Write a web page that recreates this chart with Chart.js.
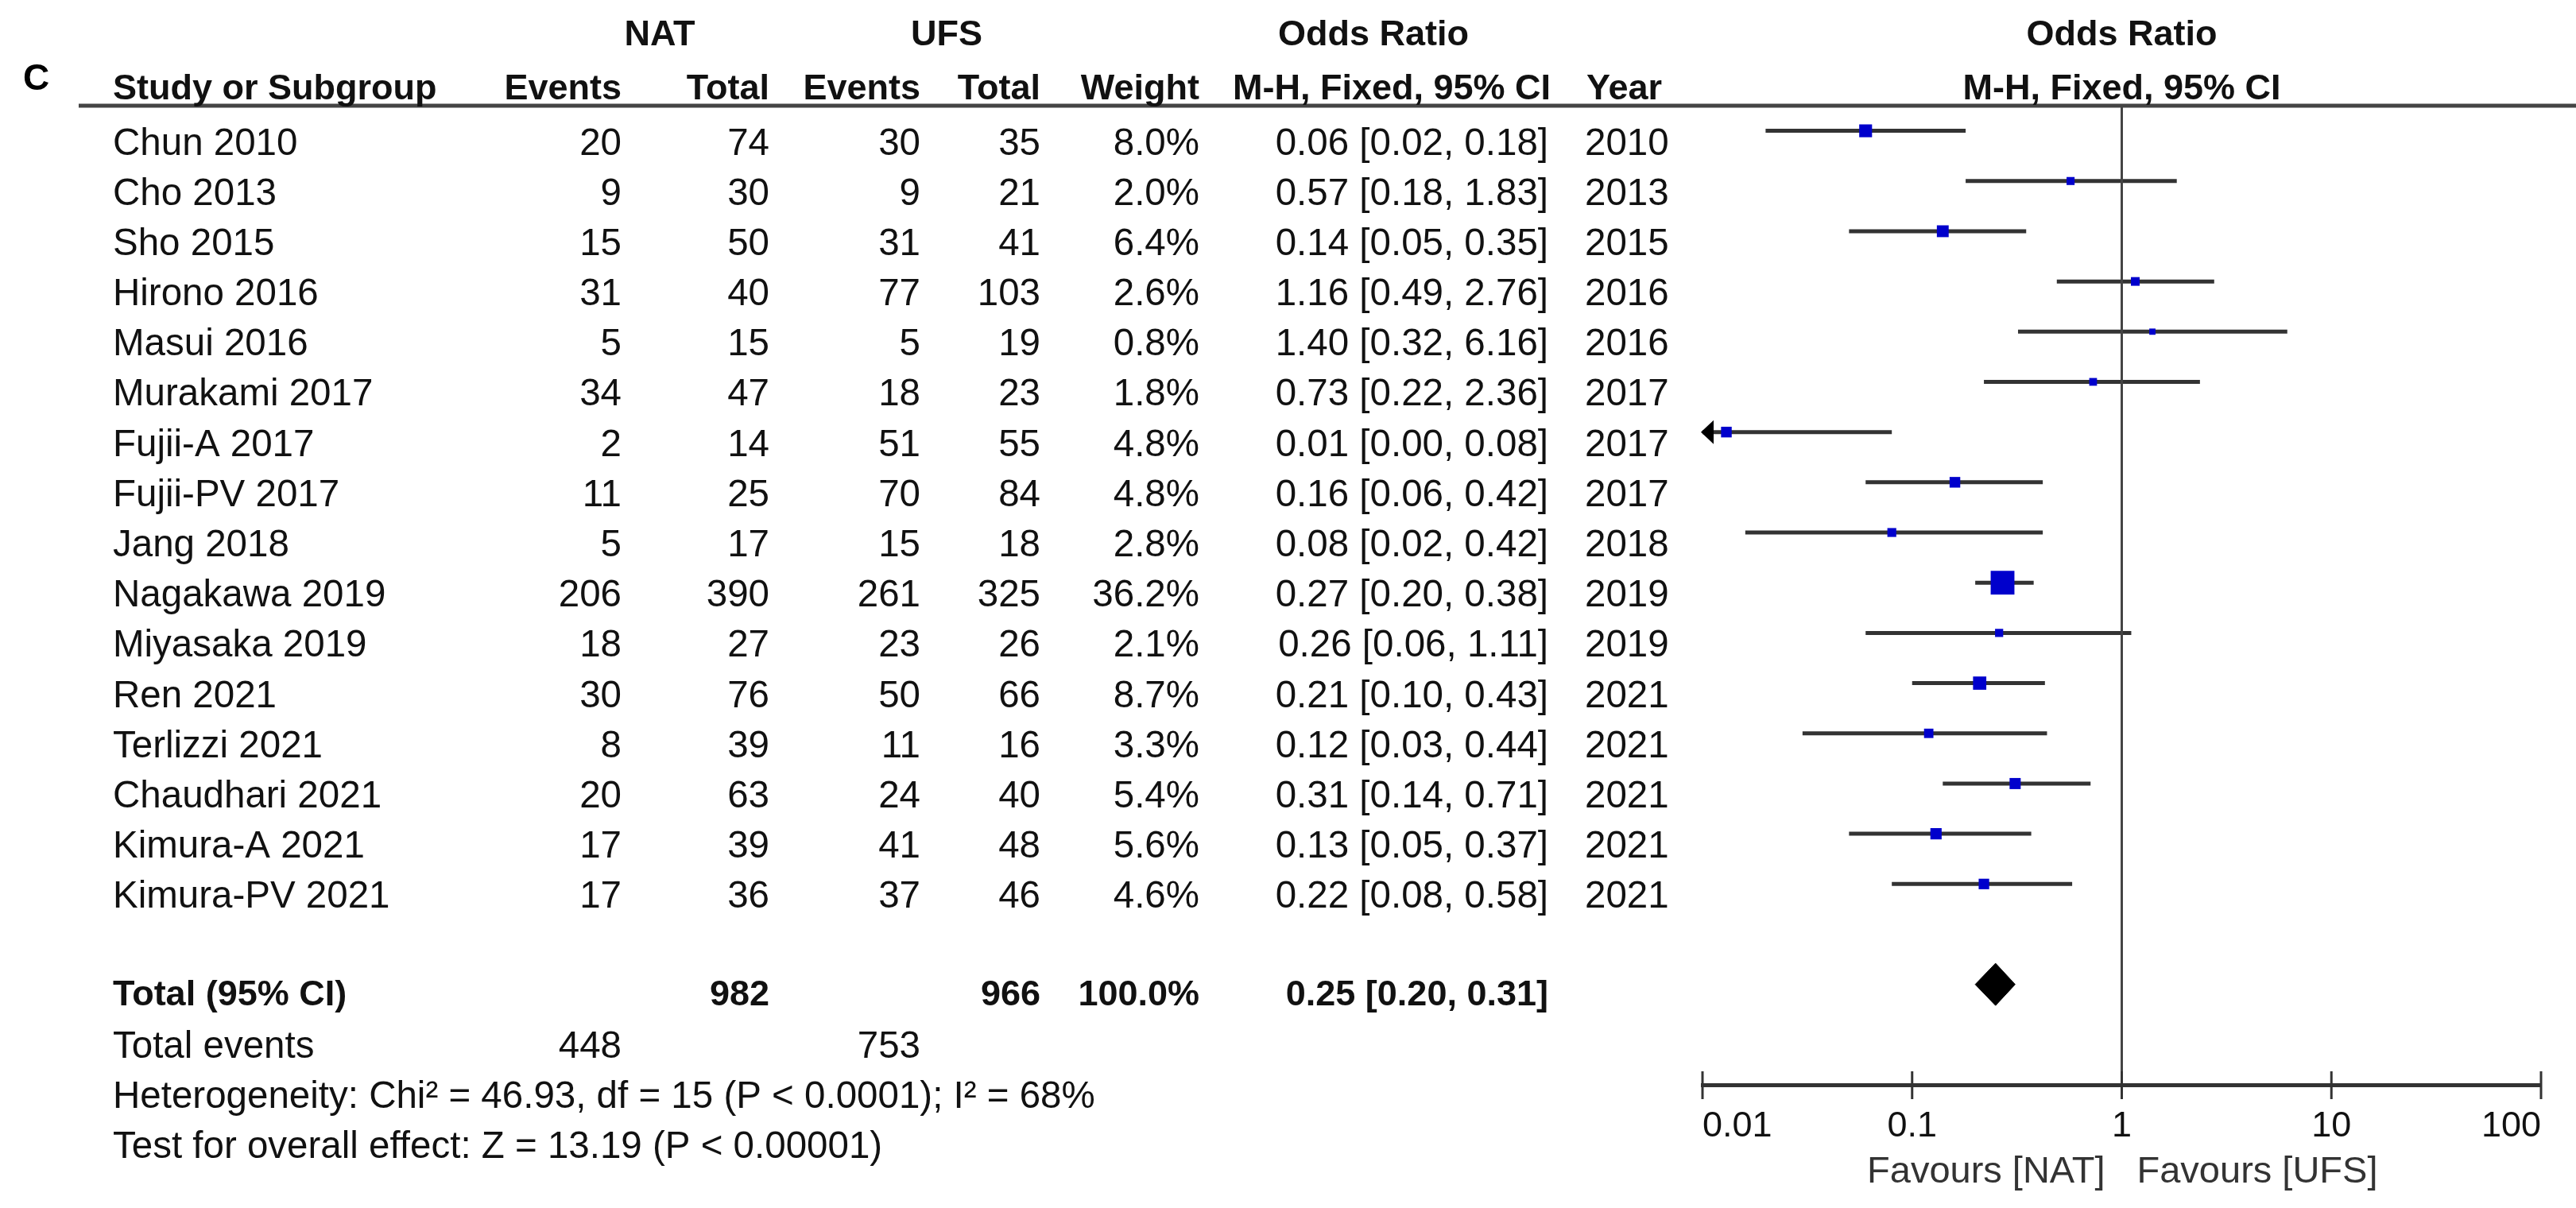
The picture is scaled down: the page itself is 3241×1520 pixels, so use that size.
<!DOCTYPE html>
<html>
<head>
<meta charset="utf-8">
<script src="https://cdn.jsdelivr.net/npm/chart.js@4.4.1/dist/chart.umd.min.js"></script>
<style>
  html, body { margin: 0; padding: 0; background: #fff; }
  canvas { display: block; }
</style>
</head>
<body>
<canvas id="forest" width="3241" height="1520" style="width:3241px;height:1520px"></canvas>
<script>
// study rows, top to bottom
const studies = ['Chun 2010', 'Cho 2013', 'Sho 2015', 'Hirono 2016', 'Masui 2016', 'Murakami 2017',
  'Fujii-A 2017', 'Fujii-PV 2017', 'Jang 2018', 'Nagakawa 2019', 'Miyasaka 2019', 'Ren 2021',
  'Terlizzi 2021', 'Chaudhari 2021', 'Kimura-A 2021', 'Kimura-PV 2021'];
const natEvents = [20, 9, 15, 31, 5, 34, 2, 11, 5, 206, 18, 30, 8, 20, 17, 17];
const natTotal = [74, 30, 50, 40, 15, 47, 14, 25, 17, 390, 27, 76, 39, 63, 39, 36];
const ufsEvents = [30, 9, 31, 77, 5, 18, 51, 70, 15, 261, 23, 50, 11, 24, 41, 37];
const ufsTotal = [35, 21, 41, 103, 19, 23, 55, 84, 18, 325, 26, 66, 16, 40, 48, 46];
const weights = [8.0, 2.0, 6.4, 2.6, 0.8, 1.8, 4.8, 4.8, 2.8, 36.2, 2.1, 8.7, 3.3, 5.4, 5.6, 4.6];
const oddsRatio = [0.06, 0.57, 0.14, 1.16, 1.40, 0.73, 0.013, 0.16, 0.08, 0.27, 0.26, 0.21, 0.12, 0.31, 0.13, 0.22];
const ciLow = [0.02, 0.18, 0.05, 0.49, 0.32, 0.22, 0.002, 0.06, 0.016, 0.20, 0.06, 0.10, 0.03, 0.14, 0.05, 0.08];
const ciHigh = [0.18, 1.83, 0.35, 2.76, 6.16, 2.36, 0.08, 0.42, 0.42, 0.38, 1.11, 0.43, 0.44, 0.71, 0.37, 0.58];
const years = [2010, 2013, 2015, 2016, 2016, 2017, 2017, 2017, 2018, 2019, 2019, 2021, 2021, 2021, 2021, 2021];

// pooled result
const totalNat = 982;
const totalUfs = 966;
const totalEventsNat = 448;
const totalEventsUfs = 753;
const pooled = { or: 0.25, lo: 0.20, hi: 0.31 };
const heterogeneityText = 'Heterogeneity: Chi\u00b2 = 46.93, df = 15 (P < 0.0001); I\u00b2 = 68%';
const overallText = 'Test for overall effect: Z = 13.19 (P < 0.00001)';

// axis
const tickValues = [0.01, 0.1, 1, 10, 100];
const tickLabels = ['0.01', '0.1', '1', '10', '100'];

const FONT = '"Liberation Sans", Arial, Helvetica, sans-serif';
const totalRow = 17;

const fmt = v => v.toFixed(2);

const ciLines = [];
studies.forEach((s, i) => {
  ciLines.push({ x: Math.max(ciLow[i], tickValues[0]), y: i });
  ciLines.push({ x: ciHigh[i], y: i });
  ciLines.push({ x: null, y: null });
});

const squares = studies.map((s, i) => ({ x: oddsRatio[i], y: i }));
// square side grows with the study weight
const squareRadius = weights.map(w => (4 + 4.3 * Math.sqrt(w)) / Math.SQRT2);

const dh = 0.42;
const diamond = [
  { x: pooled.lo, y: totalRow },
  { x: pooled.or, y: totalRow - dh },
  { x: pooled.hi, y: totalRow },
  { x: pooled.or, y: totalRow + dh },
  { x: pooled.lo, y: totalRow }
];

const tablePlugin = {
  id: 'forestTable',
  afterDraw(chart) {
    const ctx = chart.ctx;
    const xs = chart.scales.x;
    const ys = chart.scales.y;
    const area = chart.chartArea;
    const regular = '47.5px ' + FONT;
    const bold = 'bold 45px ' + FONT;

    function text(str, x, y, align, font, color) {
      ctx.font = font;
      ctx.textAlign = align;
      ctx.textBaseline = 'alphabetic';
      ctx.fillStyle = color || '#111';
      ctx.fillText(str, x, y);
    }

    ctx.save();

    // header rule
    ctx.strokeStyle = '#444';
    ctx.lineWidth = 5;
    ctx.beginPath();
    ctx.moveTo(99, area.top);
    ctx.lineTo(chart.width, area.top);
    ctx.stroke();

    // line of no effect
    const x1 = xs.getPixelForValue(1);
    ctx.lineWidth = 3;
    ctx.strokeStyle = '#444';
    ctx.beginPath();
    ctx.moveTo(x1, area.top);
    ctx.lineTo(x1, area.bottom);
    ctx.stroke();

    // tick marks crossing the axis
    ctx.strokeStyle = '#333';
    ctx.lineWidth = 3;
    tickValues.forEach(v => {
      const px = xs.getPixelForValue(v);
      ctx.beginPath();
      ctx.moveTo(px, area.bottom - 17);
      ctx.lineTo(px, area.bottom + 18);
      ctx.stroke();
    });

    // arrows for CIs running off the scale
    studies.forEach((s, i) => {
      if (ciLow[i] < xs.min) {
        const tip = xs.getPixelForValue(xs.min) - 2;
        const py = ys.getPixelForValue(i);
        ctx.fillStyle = '#000';
        ctx.beginPath();
        ctx.moveTo(tip, py);
        ctx.lineTo(tip + 16, py - 15);
        ctx.lineTo(tip + 16, py + 15);
        ctx.closePath();
        ctx.fill();
      }
    });

    // panel letter and headers
    text('C', 29, 113, 'left', 'bold 46px Arial, ' + FONT, '#000');
    text('NAT', 830, 57, 'center', bold);
    text('UFS', 1191, 57, 'center', bold);
    text('Odds Ratio', 1728, 57, 'center', bold);
    text('Odds Ratio', x1, 57, 'center', bold);
    text('Study or Subgroup', 142, 125, 'left', bold);
    text('Events', 782, 125, 'right', bold);
    text('Total', 968, 125, 'right', bold);
    text('Events', 1158, 125, 'right', bold);
    text('Total', 1309, 125, 'right', bold);
    text('Weight', 1509, 125, 'right', bold);
    text('M-H, Fixed, 95% CI', 1751, 125, 'center', bold);
    text('Year', 1996, 125, 'left', bold);
    text('M-H, Fixed, 95% CI', x1, 125, 'center', bold);

    // study rows
    studies.forEach((s, i) => {
      const by = ys.getPixelForValue(i) + 30;
      text(s, 142, by, 'left', regular);
      text(String(natEvents[i]), 782, by, 'right', regular);
      text(String(natTotal[i]), 968, by, 'right', regular);
      text(String(ufsEvents[i]), 1158, by, 'right', regular);
      text(String(ufsTotal[i]), 1309, by, 'right', regular);
      text(weights[i].toFixed(1) + '%', 1509, by, 'right', regular);
      text(fmt(oddsRatio[i]) + ' [' + fmt(ciLow[i]) + ', ' + fmt(ciHigh[i]) + ']', 1948, by, 'right', regular);
      text(String(years[i]), 1994, by, 'left', regular);
    });

    // total row
    const ty = ys.getPixelForValue(totalRow) + 26;
    text('Total (95% CI)', 142, ty, 'left', bold);
    text(String(totalNat), 968, ty, 'right', bold);
    text(String(totalUfs), 1309, ty, 'right', bold);
    text('100.0%', 1509, ty, 'right', bold);
    text(fmt(pooled.or) + ' [' + fmt(pooled.lo) + ', ' + fmt(pooled.hi) + ']', 1948, ty, 'right', bold);

    const ey = ys.getPixelForValue(18) + 29;
    text('Total events', 142, ey, 'left', regular);
    text(String(totalEventsNat), 782, ey, 'right', regular);
    text(String(totalEventsUfs), 1158, ey, 'right', regular);
    text(heterogeneityText, 142, ys.getPixelForValue(19) + 29, 'left', regular);
    text(overallText, 142, ys.getPixelForValue(20) + 29, 'left', regular);

    // favours labels
    text('Favours [NAT]', x1 - 21, 1488, 'right', '47px ' + FONT, '#333');
    text('Favours [UFS]', x1 + 19, 1488, 'left', '47px ' + FONT, '#333');

    ctx.restore();
  }
};

new Chart(document.getElementById('forest').getContext('2d'), {
  type: 'scatter',
  data: {
    datasets: [
      {
        label: 'Odds ratio',
        data: squares,
        pointStyle: 'rect',
        pointRadius: squareRadius,
        backgroundColor: '#0000cc',
        borderWidth: 0,
        order: 0
      },
      {
        label: 'Pooled',
        data: diamond,
        showLine: true,
        fill: 'shape',
        tension: 0,
        pointRadius: 0,
        borderColor: '#000',
        backgroundColor: '#000',
        borderWidth: 1,
        order: 1
      },
      {
        label: '95% CI',
        data: ciLines,
        showLine: true,
        spanGaps: false,
        pointRadius: 0,
        borderColor: '#333',
        borderWidth: 5,
        borderCapStyle: 'butt',
        order: 2
      }
    ]
  },
  options: {
    responsive: false,
    animation: false,
    devicePixelRatio: 1,
    events: [],
    layout: {
      padding: { left: 2142, right: 44, top: 133, bottom: 25 }
    },
    plugins: {
      legend: { display: false },
      tooltip: { enabled: false }
    },
    scales: {
      x: {
        type: 'logarithmic',
        position: 'bottom',
        min: 0.01,
        max: 100,
        afterBuildTicks: scale => {
          scale.ticks = tickValues.map(v => ({ value: v }));
        },
        afterFit: scale => {
          scale.height = 130;
        },
        grid: { display: false },
        border: { display: true, color: '#333', width: 5 },
        ticks: {
          align: 'inner',
          padding: 18,
          color: '#111',
          font: { family: FONT, size: 45 },
          maxRotation: 0,
          autoSkip: false,
          callback: (value, index) => tickLabels[index]
        }
      },
      y: {
        type: 'linear',
        display: false,
        reverse: true,
        min: -0.5,
        max: 19
      }
    }
  },
  plugins: [tablePlugin]
});
</script>
</body>
</html>
